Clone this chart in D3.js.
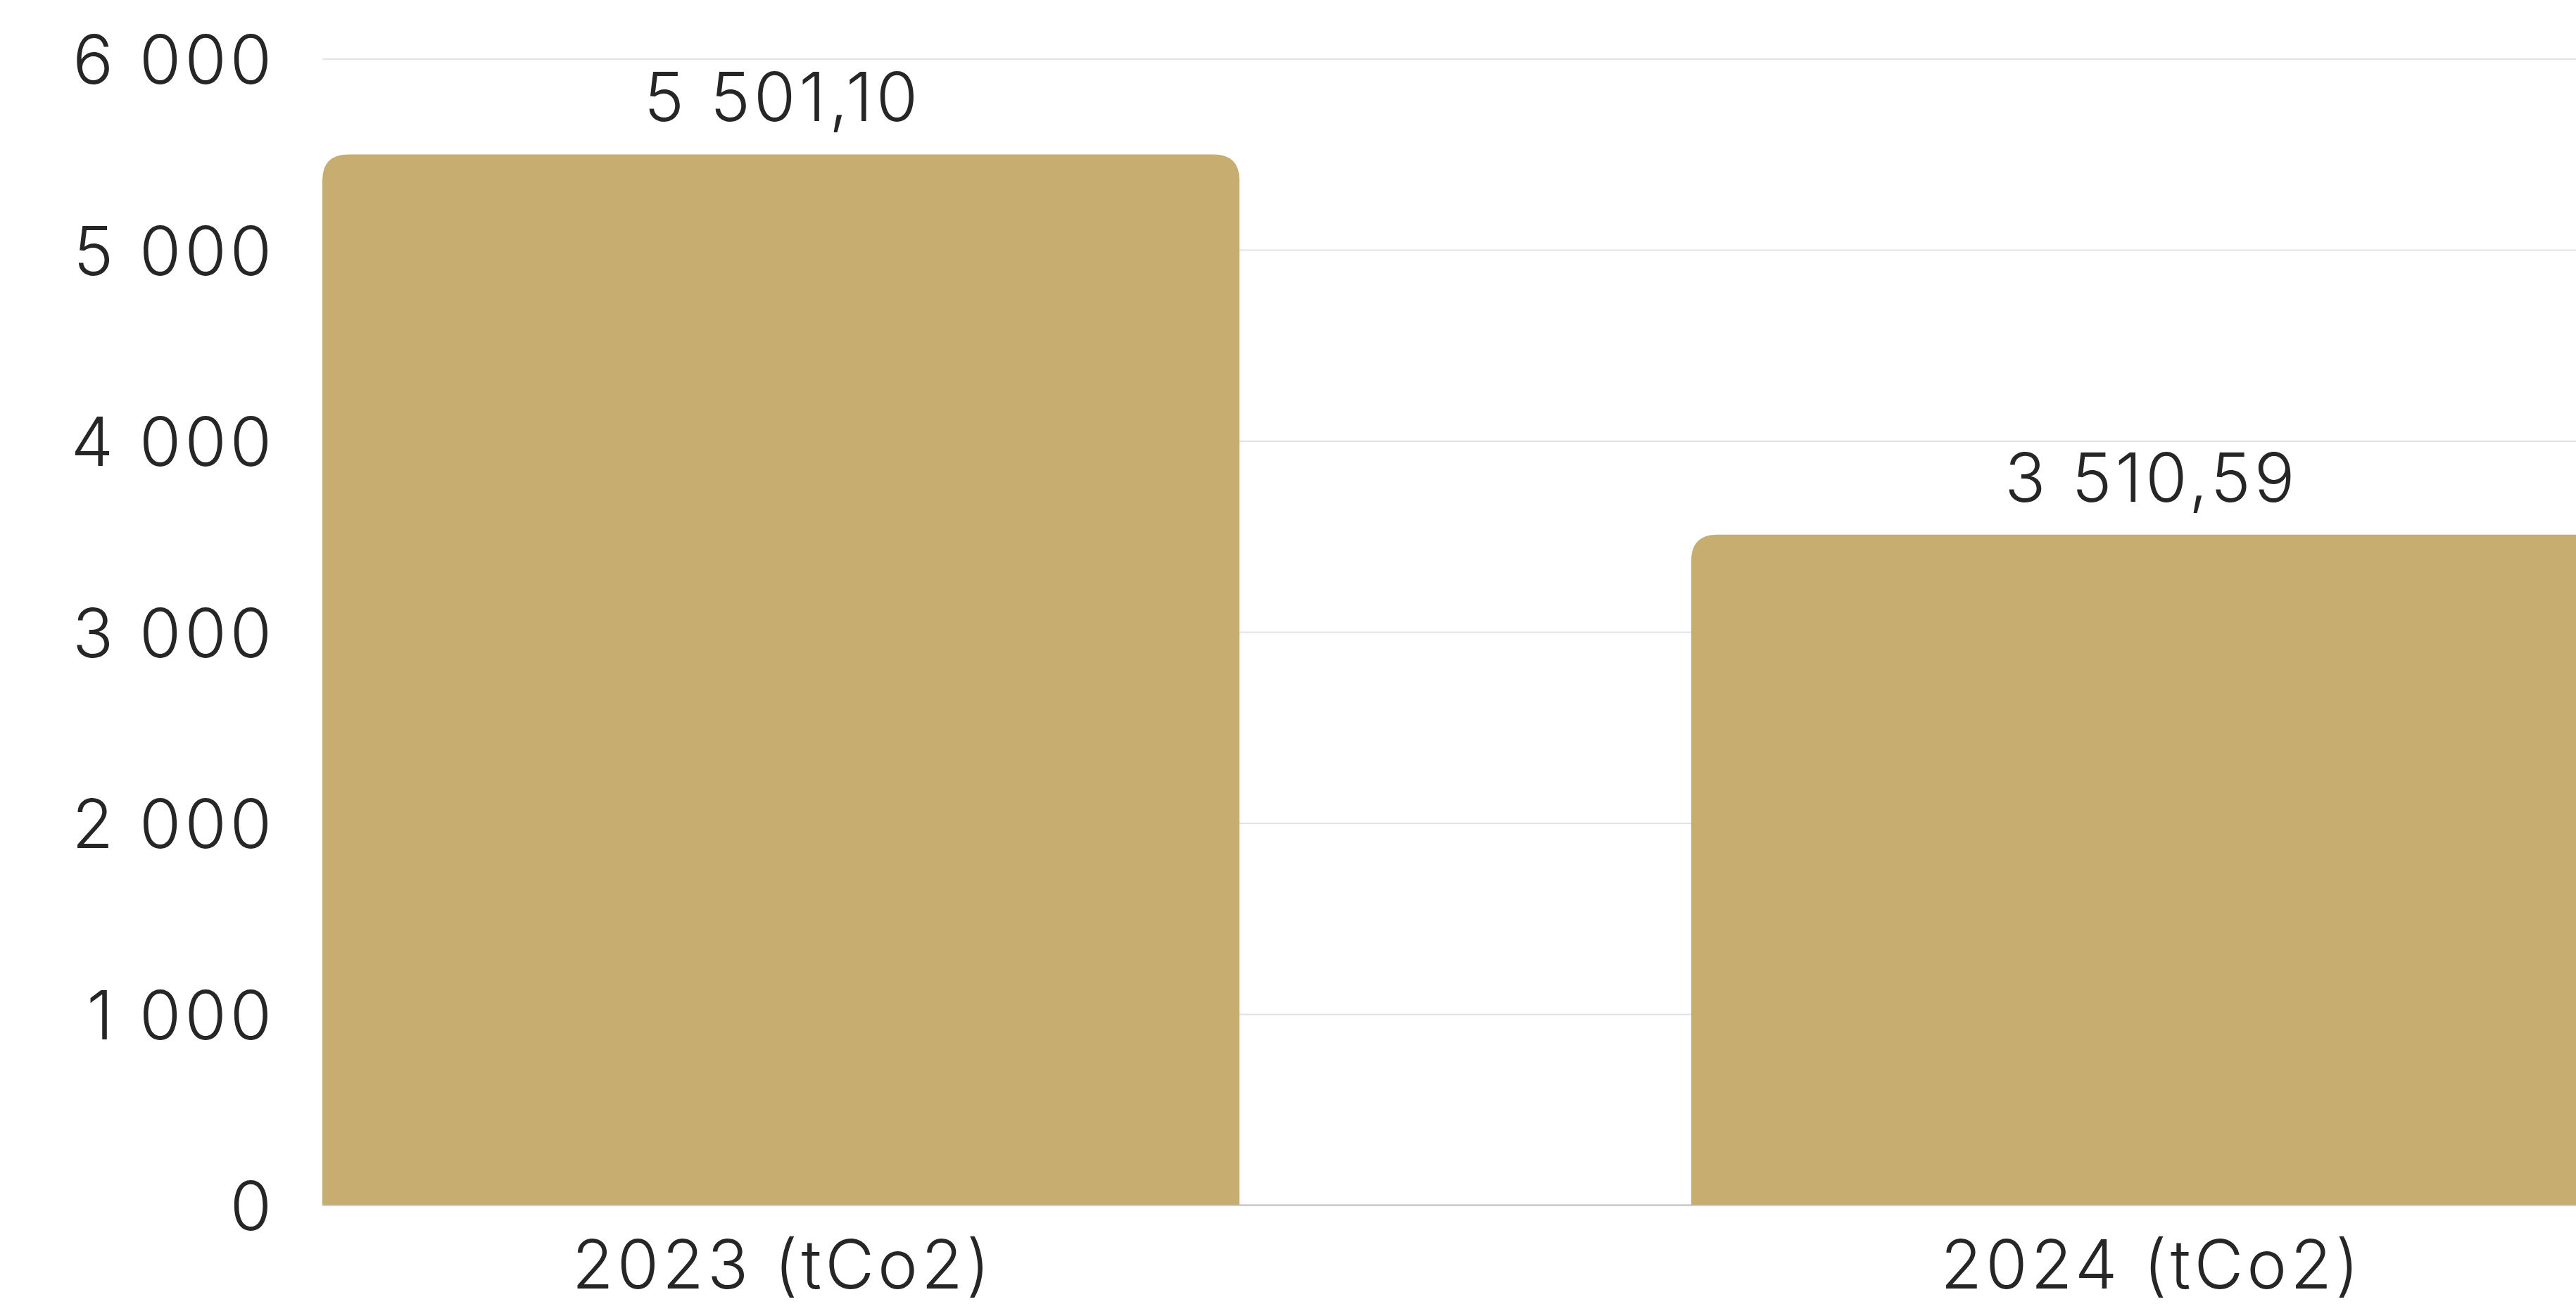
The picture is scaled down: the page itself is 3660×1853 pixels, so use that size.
<!DOCTYPE html>
<html>
<head>
<meta charset="utf-8">
<script src="https://cdn.jsdelivr.net/npm/d3@7"></script>
<style>
  html, body { margin: 0; padding: 0; background: #fff; overflow: hidden; }
  svg { display: block; font-family: Inter, "Noto Sans", sans-serif; }
</style>
</head>
<body>
<svg></svg>
<script>
// datos del grafico
let categories = ["2023 (tCo2)", "2024 (tCo2)"];
let values = [5501.10, 3510.59];
let yTicks = [0, 1000, 2000, 3000, 4000, 5000, 6000];

let width = 3660, height = 1853;
let barColor = "#c8ad70";
let textColor = "#262626";
let fontSize = 96;
let spacing = 5;

let svg = d3.select("svg")
  .attr("width", width)
  .attr("height", height);

// formato con espacio para miles y coma decimal
let locale = d3.formatLocale({decimal: ",", thousands: " ", grouping: [3], currency: ["", ""]});
let fmtTick = locale.format(",.0f");
let fmtValue = locale.format(",.2f");

// el area de dibujo sigue mas alla del borde derecho (la segunda barra queda cortada)
let x = d3.scaleBand()
  .domain(categories)
  .range([458, 3706])
  .paddingInner(0.33)
  .paddingOuter(0);

let y = d3.scaleLinear()
  .domain([0, 6000])
  .range([1713, 84]);

// lineas de la rejilla
svg.append("g")
  .selectAll("line")
  .data(yTicks.filter(d => d > 0))
  .join("line")
    .attr("x1", 458)
    .attr("x2", width)
    .attr("y1", d => y(d))
    .attr("y2", d => y(d))
    .attr("stroke", "#e3e3e3")
    .attr("stroke-width", 2);

// barras con esquinas superiores redondeadas
let r = 37;
function barPath(d, i) {
  let x0 = x(categories[i]), x1 = x0 + x.bandwidth();
  let y0 = y(d), yb = y(0);
  return `M${x0},${yb}V${y0 + r}Q${x0},${y0} ${x0 + r},${y0}H${x1 - r}Q${x1},${y0} ${x1},${y0 + r}V${yb}Z`;
}

svg.append("g")
  .selectAll("path")
  .data(values)
  .join("path")
    .attr("d", barPath)
    .attr("fill", barColor);

// linea base
svg.append("line")
  .attr("x1", 458)
  .attr("x2", width)
  .attr("y1", y(0) - 0.5)
  .attr("y2", y(0) - 0.5)
  .attr("stroke", "#b8b8b8")
  .attr("stroke-width", 2);

// estilo comun de los textos
function textStyle(sel) {
  sel.attr("fill", textColor)
    .attr("font-size", fontSize)
    .attr("font-weight", 300)
    .attr("letter-spacing", spacing);
}

// etiquetas de valor
svg.append("g")
  .selectAll("text")
  .data(values)
  .join("text")
    .attr("x", (d, i) => x(categories[i]) + x.bandwidth() / 2 + spacing / 2)
    .attr("y", d => y(d) - 47)
    .attr("text-anchor", "middle")
    .text(d => fmtValue(d))
    .call(textStyle);

// eje Y
let yAxis = svg.append("g")
  .attr("transform", "translate(458,0)")
  .call(d3.axisLeft(y).tickValues(yTicks).tickFormat(fmtTick).tickSize(0).tickPadding(72 - spacing))
  .attr("font-family", null)
  .attr("font-size", null);
yAxis.select(".domain").remove();
yAxis.selectAll("text")
  .attr("dy", "0.36em")
  .call(textStyle);

// eje X
let xAxis = svg.append("g")
  .attr("transform", `translate(0,${y(0)})`)
  .call(d3.axisBottom(x).tickSize(0))
  .attr("font-family", null)
  .attr("font-size", null);
xAxis.select(".domain").remove();
xAxis.selectAll("text")
  .attr("x", spacing / 2)
  .attr("y", 118)
  .attr("dy", 0)
  .call(textStyle);
</script>
</body>
</html>
